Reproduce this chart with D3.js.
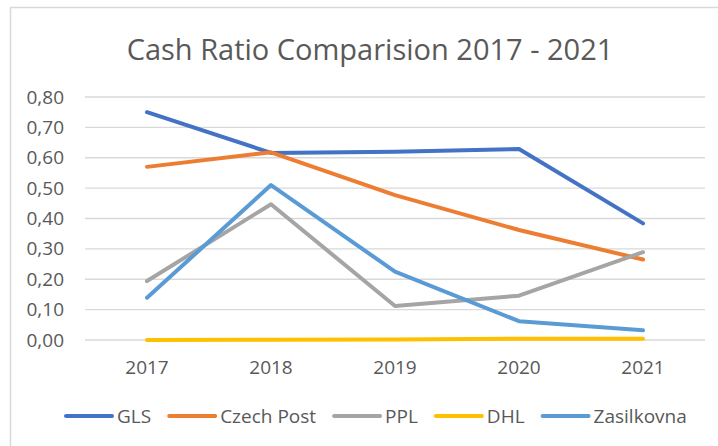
<!DOCTYPE html>
<html>
<head>
<meta charset="utf-8">
<script src="https://cdn.jsdelivr.net/npm/d3@7"></script>
<style>
  body { margin: 0; background: #fff; }
  text { font-family: "Open Sans", "Noto Sans", sans-serif; fill: #595959; }
</style>
</head>
<body>
<div id="chart-area"></div>
<script>
// cash ratio per company, 2017 - 2021
const years = ["2017", "2018", "2019", "2020", "2021"];
const gls = [0.75, 0.616, 0.62, 0.629, 0.384];
const czechPost = [0.57, 0.618, 0.477, 0.362, 0.265];
const ppl = [0.194, 0.447, 0.112, 0.146, 0.289];
const dhl = [0.0, 0.001, 0.002, 0.004, 0.004];
const zasilkovna = [0.139, 0.51, 0.225, 0.062, 0.032];
const yTicks = [0, 0.1, 0.2, 0.3, 0.4, 0.5, 0.6, 0.7, 0.8];

const series = [
  { name: "GLS", values: gls, color: "#4472C4" },
  { name: "Czech Post", values: czechPost, color: "#ED7D31" },
  { name: "PPL", values: ppl, color: "#A5A5A5" },
  { name: "DHL", values: dhl, color: "#FFC000" },
  { name: "Zasilkovna", values: zasilkovna, color: "#5B9BD5" }
];

let svg = d3.select("#chart-area").append("svg")
  .attr("width", 718)
  .attr("height", 446)

// chart frame (cut off on the right and bottom)
svg.append("rect")
  .attr("x", 10.5).attr("y", 7.5)
  .attr("width", 730).attr("height", 460)
  .attr("fill", "#fff")
  .attr("stroke", "#D9D9D9")
  .attr("stroke-width", 1.5)

svg.append("text")
  .attr("x", 370).attr("y", 60)
  .attr("text-anchor", "middle")
  .style("font-size", "29px")
  .text("Cash Ratio Comparision 2017 - 2021")

let x = d3.scaleBand().domain(years).range([85, 705]);
let y = d3.scaleLinear().domain([0, 0.8]).range([340, 97]);

// gridlines
svg.append("g")
  .selectAll("line")
  .data(yTicks)
  .enter().append("line")
  .attr("x1", 85).attr("x2", 705)
  .attr("y1", d => y(d)).attr("y2", d => y(d))
  .attr("stroke", "#D9D9D9")
  .attr("stroke-width", 1.3)

// y axis labels
let yAxis = d3.axisLeft(y)
  .tickValues(yTicks)
  .tickSize(0)
  .tickPadding(0)
  .tickFormat(d => d3.format(".2f")(d).replace(".", ","));
let gy = svg.append("g").attr("transform", "translate(64,0)").call(yAxis);
gy.select(".domain").remove();
gy.selectAll("text").attr("fill", "#595959")
  .style("font-size", "19px")
  .style("font-family", "'Open Sans', sans-serif");

// x axis labels
let xAxis = d3.axisBottom(x).tickSize(0).tickPadding(0);
let gx = svg.append("g").attr("transform", "translate(0,360)").call(xAxis);
gx.select(".domain").remove();
gx.selectAll("text").attr("fill", "#595959")
  .style("font-size", "19px")
  .style("font-family", "'Open Sans', sans-serif");

let line = d3.line()
  .x((d, i) => x(years[i]) + x.bandwidth() / 2)
  .y(d => y(d));

svg.append("g")
  .selectAll("path")
  .data(series)
  .enter().append("path")
  .attr("d", d => line(d.values))
  .attr("fill", "none")
  .attr("stroke", d => d.color)
  .attr("stroke-width", 4)
  .attr("stroke-linecap", "round")
  .attr("stroke-linejoin", "round")

// legend
let legend = svg.append("g");
let lx = 66;
series.forEach(function(s) {
  legend.append("line")
    .attr("x1", lx).attr("x2", lx + 46)
    .attr("y1", 416).attr("y2", 416)
    .attr("stroke", s.color)
    .attr("stroke-width", 4)
    .attr("stroke-linecap", "round")
  let t = legend.append("text")
    .attr("x", lx + 51).attr("y", 423)
    .style("font-size", "19px")
    .text(s.name)
  lx += 51 + t.node().getComputedTextLength() + 18;
});
</script>
</body>
</html>
